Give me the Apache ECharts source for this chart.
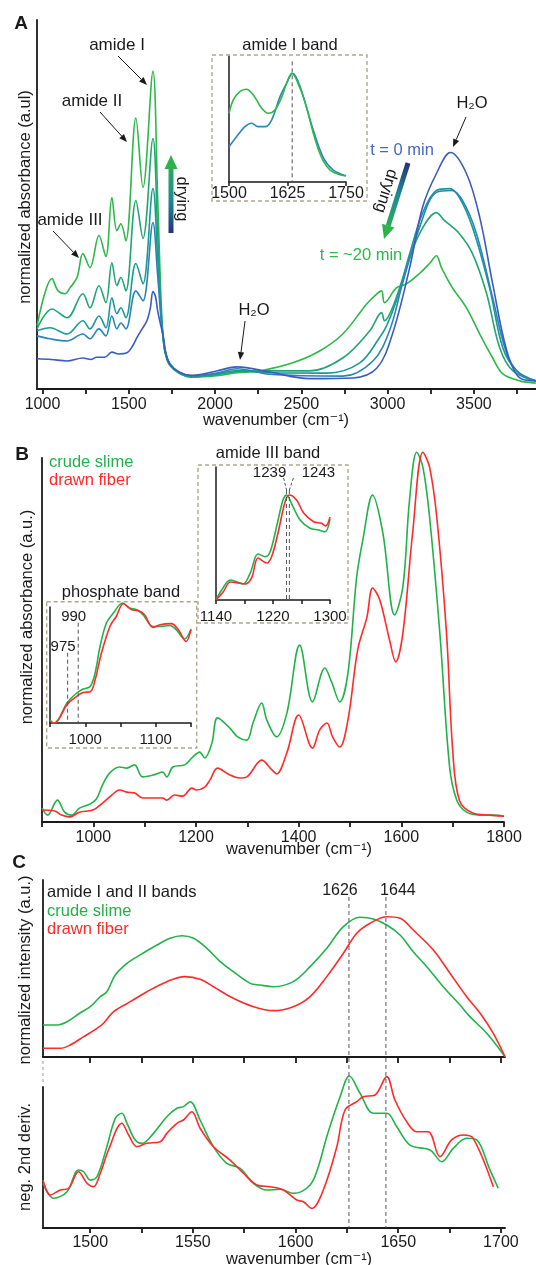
<!DOCTYPE html>
<html><head><meta charset="utf-8">
<script src="https://cdn.jsdelivr.net/npm/echarts@6/dist/echarts.min.js"></script>
<style>html,body{margin:0;padding:0;background:#fff}#c{width:536px;height:1265px}</style>
</head><body><div id="c"></div>
<script>
// ---------- tick labels ----------
const aTicks=[1000,1250,1500,1750,2000,2250,2500,2750,3000,3250,3500,3750];
const aLabels=[1000,1500,2000,2500,3000,3500];
const aiTicks=[1500,1625,1750];
const bTicks=[900,1000,1100,1200,1300,1400,1500,1600,1700,1800];
const bLabels=[1000,1200,1400,1600,1800];
const bpTicks=[950,1000,1050,1100,1150];
const bpLabels=[1000,1100];
const b3Ticks=[1140,1180,1220,1260,1300];
const b3Labels=[1140,1220,1300];
const cTicks=[1500,1525,1550,1575,1600,1625,1650,1675,1700];
const cLabels=[1500,1550,1600,1650,1700];

// ---------- panel A: drying series (t=0 ... t=~20 min) ----------
const aT0=[[968,8.2],[1050,8.0],[1142,7.6],[1234,8.4],[1280,8.0],[1315,8.6],[1360,8.6],[1402,10.0],[1440,9.5],[1489,9.8],[1520,11.5],[1547,13.9],[1580,16.5],[1605,18.5],[1625,22],[1640,26.4],[1655,25],[1668,21],[1697,14.9],[1738,6.8],[1860,3.7],[2010,4.9],[2126,6.0],[2317,4.6],[2548,2.8],[2798,3.0],[2938,5.7],[3028,14.9],[3128,32.9],[3202,49.2],[3283,58.4],[3364,64.1],[3457,58.4],[3534,46.5],[3609,28.5],[3691,10.3],[3766,3.0],[3859,2.2]];
const aT1=[[968,14.4],[1043,13.6],[1142,13.0],[1234,14.9],[1275,13.6],[1327,16.3],[1367,14.4],[1402,19.8],[1431,16.3],[1454,17.9],[1483,16.3],[1541,26.6],[1582,23.9],[1640,45.1],[1668,30.3],[1697,14.9],[1738,6.8],[1860,3.6],[2010,4.3],[2126,5.5],[2317,4.0],[2740,3.5],[2915,7.6],[3011,15.8],[3086,28.5],[3185,43.8],[3283,53.3],[3370,53.8],[3434,51.1],[3515,42.1],[3609,24.7],[3691,9.5],[3766,4.1],[3859,2.2]];
const aT2=[[968,15.8],[1043,16.6],[1142,14.9],[1234,18.5],[1275,16.3],[1327,19.8],[1367,16.6],[1402,24.7],[1431,20.4],[1454,22.0],[1483,19.3],[1541,34.0],[1582,28.5],[1640,54.3],[1668,35],[1697,14.9],[1738,6.8],[1860,3.5],[2010,4.1],[2126,5.0],[2317,4.4],[2648,4.3],[2839,7.1],[2953,13.9],[2994,17.1],[3051,23.9],[3128,36.7],[3202,47.6],[3283,53.8],[3358,54.3],[3416,51.9],[3492,43.8],[3591,27.4],[3668,11.1],[3749,4.9],[3859,2.2]];
const aT3=[[968,16.3],[1055,21.7],[1142,19.3],[1234,25.8],[1275,22.0],[1327,28.0],[1367,23.4],[1402,34.2],[1431,28.0],[1454,30.2],[1483,26.6],[1541,51.1],[1582,40.8],[1640,67.9],[1668,41.8],[1697,14.9],[1738,6.5],[1860,3.3],[2010,3.9],[2126,4.7],[2259,4.9],[2548,4.9],[2740,8.4],[2897,15.8],[2965,20.7],[2982,18.5],[3028,22.0],[3109,32.9],[3185,42.1],[3283,47.8],[3329,45.7],[3416,42.1],[3492,36.7],[3574,25.8],[3650,11.1],[3726,4.9],[3859,2.2]];
const aT4=[[968,17.1],[1055,29.9],[1090,26.6],[1130,25.8],[1159,27.4],[1200,30.2],[1234,36.7],[1275,32.9],[1327,41.6],[1367,35.9],[1402,51.9],[1431,42.9],[1454,44.8],[1483,40.2],[1541,73.4],[1582,54.6],[1640,86.1],[1668,50.8],[1697,14.9],[1726,7.3],[1767,5.2],[1860,3.2],[2010,3.6],[2126,4.4],[2259,4.9],[2450,7.1],[2606,10.3],[2740,14.9],[2880,23.1],[2938,25.8],[2965,26.6],[2982,23.4],[3051,27.4],[3109,28.5],[3185,31.3],[3243,34.0],[3283,36.1],[3312,32.9],[3376,27.4],[3457,22.0],[3534,14.9],[3609,8.4],[3668,4.1],[3766,2.2],[3859,1.6]];

// ---------- panel A inset: amide I band ----------
const aiBlue=[[1500,0.325],[1516,0.417],[1534,0.509],[1548,0.54],[1562,0.509],[1577,0.509],[1591,0.570],[1609,0.785],[1623,0.908],[1636,1.0],[1652,0.877],[1680,0.478],[1702,0.22],[1723,0.11],[1750,0.058]];
const aiGreen=[[1500,0.632],[1509,0.754],[1523,0.831],[1537,0.853],[1552,0.8],[1570,0.678],[1584,0.632],[1598,0.662],[1613,0.785],[1623,0.908],[1634,1.0],[1652,0.86],[1666,0.68],[1680,0.45],[1691,0.30],[1702,0.19],[1716,0.11],[1735,0.07],[1750,0.055]];

// ---------- panel B ----------
const bGreen=[[900,3.8],[911,1.9],[930,6.0],[944,2.7],[958,1.9],[973,3.8],[993,4.9],[1006,6.3],[1018,10.2],[1032,13.5],[1051,15.1],[1065,14.8],[1080,15.7],[1096,12.4],[1116,12.9],[1135,13.7],[1143,12.4],[1155,15.1],[1178,15.7],[1194,17.9],[1207,19.2],[1217,17.6],[1231,21.7],[1242,28.6],[1266,25.8],[1281,23.4],[1299,22.5],[1311,27.2],[1328,32.7],[1338,28.0],[1357,23.4],[1377,29.9],[1402,48.6],[1427,33.0],[1451,42.3],[1464,38.5],[1480,33.0],[1496,40.9],[1513,67.3],[1525,77.5],[1544,89.8],[1564,79.4],[1587,56.9],[1603,64.6],[1616,88.5],[1630,101.6],[1642,97.5],[1655,83.8],[1675,51.9],[1694,15.2],[1708,6.0],[1727,2.7],[1753,1.9],[1778,1.9],[1800,1.6]];
const bRed=[[900,3.3],[925,3.0],[938,1.9],[954,1.4],[973,2.7],[999,3.3],[1018,5.2],[1036,7.4],[1051,8.8],[1065,8.2],[1080,8.0],[1096,6.6],[1116,6.6],[1135,6.6],[1143,6.0],[1158,7.4],[1174,7.1],[1192,9.3],[1201,8.8],[1217,9.6],[1227,11.5],[1242,14.8],[1266,12.9],[1285,12.1],[1299,12.4],[1328,17.0],[1348,14.3],[1357,13.2],[1377,19.0],[1400,29.4],[1427,20.3],[1441,25.3],[1455,27.2],[1466,23.4],[1480,20.6],[1496,28.0],[1515,47.3],[1533,56.3],[1544,64.3],[1558,61.0],[1577,50.0],[1589,44.0],[1603,51.9],[1622,79.4],[1642,101.6],[1655,97.5],[1669,83.8],[1688,51.9],[1700,19.8],[1713,6.0],[1739,2.5],[1772,1.9],[1800,1.6]];
const bpGreen=[[950,0.028],[955,0],[962,0.028],[974,0.167],[988,0.25],[997,0.283],[1007,0.305],[1014,0.417],[1021,0.638],[1030,0.833],[1040,0.917],[1053,1.0],[1063,0.958],[1073,0.944],[1082,0.903],[1096,0.805],[1106,0.805],[1120,0.813],[1129,0.778],[1141,0.7],[1150,0.783]];
const bpRed=[[950,0.013],[955,0],[962,0.028],[974,0.153],[988,0.222],[997,0.255],[1007,0.26],[1014,0.36],[1023,0.583],[1035,0.805],[1044,0.888],[1054,0.994],[1066,0.944],[1075,0.938],[1084,0.903],[1096,0.797],[1106,0.819],[1122,0.828],[1132,0.778],[1143,0.68],[1150,0.778]];
const b3Green=[[1140,0],[1148,0.095],[1160,0.19],[1169,0.174],[1178,0.152],[1188,0.257],[1199,0.438],[1209,0.412],[1216,0.46],[1225,0.698],[1234,0.952],[1239,1.0],[1248,0.889],[1258,0.762],[1272,0.683],[1284,0.667],[1293,0.65],[1300,0.771]];
const b3Red=[[1140,0],[1150,0.076],[1160,0.171],[1169,0.165],[1181,0.152],[1190,0.21],[1199,0.4],[1211,0.352],[1218,0.412],[1227,0.638],[1237,0.936],[1243,1.0],[1253,0.952],[1263,0.829],[1277,0.746],[1288,0.73],[1294,0.705],[1300,0.79]];

// ---------- panel C ----------
const c1Green=[[1477,0.229],[1484,0.229],[1488.7,0.252],[1495.2,0.316],[1500,0.359],[1504.9,0.431],[1508.1,0.466],[1512.2,0.586],[1517.9,0.669],[1524.3,0.729],[1532.5,0.8],[1538.9,0.848],[1544.6,0.866],[1550.3,0.848],[1556.8,0.776],[1563.3,0.681],[1569.7,0.609],[1577.9,0.526],[1582.7,0.514],[1589.2,0.502],[1598.9,0.538],[1607.1,0.645],[1615.2,0.776],[1623.3,0.931],[1631.4,0.998],[1637.9,0.986],[1644.4,0.943],[1650.9,0.871],[1657.3,0.752],[1663.9,0.645],[1671.9,0.502],[1680.1,0.371],[1684.9,0.288],[1693.1,0.169],[1702,0.002]];
const c1Red=[[1477,0.062],[1485.4,0.062],[1490.3,0.086],[1496.8,0.145],[1503.3,0.205],[1506.5,0.241],[1511.4,0.324],[1519.5,0.395],[1527.6,0.466],[1537.3,0.538],[1546.2,0.574],[1553.5,0.555],[1560,0.502],[1569.7,0.419],[1579.5,0.359],[1589.2,0.331],[1598.9,0.359],[1607.1,0.431],[1615.2,0.574],[1623.3,0.741],[1629.8,0.884],[1636.3,0.955],[1644.4,1.002],[1650.9,0.991],[1657.3,0.907],[1667.1,0.764],[1675.2,0.598],[1683.3,0.431],[1689.9,0.312],[1696.3,0.169],[1702,0.002]];
const c2Green=[[1477,0.298],[1482.2,0.198],[1488.7,0.242],[1494.3,0.387],[1496.8,0.375],[1500,0.32],[1503.3,0.342],[1508.1,0.542],[1512.2,0.731],[1515.4,0.765],[1517.9,0.698],[1521.9,0.587],[1525.2,0.565],[1530.8,0.631],[1537.3,0.742],[1542.2,0.798],[1545.4,0.809],[1548.7,0.842],[1553.5,0.72],[1560,0.542],[1566.5,0.431],[1573,0.398],[1579.5,0.298],[1586,0.253],[1592.5,0.258],[1599,0.231],[1607.1,0.287],[1611.1,0.409],[1615.2,0.609],[1621.7,0.875],[1626.2,1.013],[1631.4,0.898],[1637.9,0.765],[1644.4,0.765],[1649.3,0.675],[1655.7,0.553],[1665.5,0.52],[1671.2,0.442],[1676.8,0.531],[1683.3,0.598],[1688.2,0.587],[1694.7,0.387],[1698.7,0.265]];
const c2Red=[[1477,0.32],[1480.6,0.22],[1485.4,0.253],[1489.5,0.265],[1494.3,0.375],[1498.4,0.298],[1501.6,0.275],[1504.9,0.365],[1508.9,0.52],[1515.4,0.698],[1518.7,0.62],[1522.7,0.542],[1527.6,0.565],[1534.1,0.575],[1537.3,0.631],[1542.2,0.698],[1545.4,0.72],[1549.5,0.775],[1553.5,0.665],[1560,0.542],[1568.1,0.453],[1574.6,0.365],[1581.1,0.287],[1587.6,0.275],[1594.1,0.253],[1600.6,0.187],[1603.8,0.175],[1607.9,0.131],[1613.5,0.253],[1620.1,0.542],[1624.1,0.787],[1629.8,0.842],[1633,0.875],[1638.7,0.887],[1644.4,1.009],[1648.4,0.853],[1654.1,0.709],[1659,0.642],[1664.6,0.642],[1670.3,0.475],[1676,0.587],[1681.7,0.62],[1686.5,0.598],[1696.3,0.275]];

// ---------- chart ----------
const FONT="'Liberation Sans', Arial, 'DejaVu Sans', sans-serif";
const BLACK='#1a1a1a';
const GREEN='#22b24a', RED='#ff2a2a';
const chart=echarts.init(document.getElementById('c'),null,{renderer:'canvas'});

function xAx(gi,min,max,ticks,labels,o){
  o=o||{};
  return {type:'value',gridIndex:gi,min:min,max:max,
    axisLine:{show:true,onZero:false,lineStyle:{color:BLACK,width:o.lw||1.5}},
    axisTick:{show:true,inside:false,length:o.tl||5,customValues:ticks,lineStyle:{color:BLACK,width:o.lw||1.5}},
    axisLabel:labels?{show:true,customValues:labels,formatter:function(v){return String(v);},fontSize:o.fs||16,fontFamily:FONT,color:BLACK,margin:o.m!=null?o.m:8}:{show:false},
    splitLine:{show:false}};
}
function yAx(gi,min,max,lw){
  return {type:'value',gridIndex:gi,min:min,max:max,
    axisLine:{show:true,onZero:false,lineStyle:{color:BLACK,width:lw||1.5}},
    axisTick:{show:false},axisLabel:{show:false},splitLine:{show:false}};
}
function ser(gi,data,color,w){
  return {type:'line',xAxisIndex:gi,yAxisIndex:gi,data:data,showSymbol:false,symbol:'none',
    smooth:0.35,clip:false,silent:true,lineStyle:{width:w||1.6,color:color},itemStyle:{color:color}};
}

const option={
  animation:false,
  backgroundColor:'#fff',
  grid:[
    {left:37,top:20,width:499,height:369,outerBoundsMode:'none'},
    {left:229,top:56,width:117,height:126,outerBoundsMode:'none'},
    {left:42,top:458,width:462,height:364,outerBoundsMode:'none'},
    {left:50,top:607,width:141,height:116,outerBoundsMode:'none'},
    {left:216,top:467,width:114,height:133,outerBoundsMode:'none'},
    {left:43,top:880,width:462,height:177,outerBoundsMode:'none'},
    {left:43,top:1087,width:462,height:141,outerBoundsMode:'none'}
  ],
  xAxis:[
    xAx(0,968,3860,aTicks,aLabels,{lw:1.8,m:8}),
    xAx(1,1500,1750,aiTicks,aiTicks,{m:4,tl:4}),
    xAx(2,900,1800,bTicks,bLabels,{lw:1.8,m:8}),
    xAx(3,950,1150,bpTicks,bpLabels,{fs:15,m:9,tl:4}),
    xAx(4,1140,1300,b3Ticks,b3Labels,{fs:15,m:9,tl:4}),
    xAx(5,1477,1702,cTicks,null,{lw:1.8,tl:6}),
    xAx(6,1477,1702,cTicks,cLabels,{lw:1.8,m:7})
  ],
  yAxis:[
    yAx(0,0,100,1.8), yAx(1,0,1.159), yAx(2,0,100,1.8), yAx(3,0,0.967),
    yAx(4,0,1.267), yAx(5,0,1.264,1.8), yAx(6,0,0.94,1.8)
  ],
  series:[
    ser(0,aT4,'#2cb84a'), ser(0,aT3,'#20a672'), ser(0,aT2,'#1b9999'), ser(0,aT1,'#2b84b8'), ser(0,aT0,'#3a5cc0'),
    ser(1,aiBlue,'#2a86b8'), ser(1,aiGreen,'#2cb84a'),
    ser(2,bGreen,GREEN), ser(2,bRed,RED),
    ser(3,bpGreen,GREEN), ser(3,bpRed,RED),
    ser(4,b3Green,GREEN), ser(4,b3Red,RED),
    ser(5,c1Green,GREEN), ser(5,c1Red,RED),
    ser(6,c2Green,GREEN), ser(6,c2Red,RED)
  ]
};
chart.setOption(option);

// ---------- annotations ----------
const g=[];
function T(text,x,y,size,color,o){
  o=o||{};
  g.push({type:'text',x:x,y:y,rotation:o.rot||0,silent:true,z:10,
    style:{text:text,fontSize:size,fontFamily:FONT,fontWeight:o.bold?'bold':'normal',fill:color||BLACK,
      align:o.align||'center',verticalAlign:'middle',textAlign:o.align||'center',textVerticalAlign:'middle'}});
}
function L(x1,y1,x2,y2,color,w,dash){
  g.push({type:'line',silent:true,z:5,shape:{x1:x1,y1:y1,x2:x2,y2:y2},style:{stroke:color||BLACK,lineWidth:w||1,lineDash:dash||null}});
}
function arrow(x1,y1,x2,y2){
  const a=Math.atan2(y2-y1,x2-x1),c=Math.cos(a),s=Math.sin(a),hl=8,hw=3.2;
  const bx=x2-hl*c,by=y2-hl*s;
  L(x1,y1,bx,by,BLACK,1);
  g.push({type:'polygon',silent:true,z:5,shape:{points:[[x2,y2],[bx-s*hw,by+c*hw],[bx+s*hw,by-c*hw]]},style:{fill:BLACK}});
}
function thickArrow(x1,y1,x2,y2){
  const a=Math.atan2(y2-y1,x2-x1),c=Math.cos(a),s=Math.sin(a),hl=14,hw=6.5,w=5;
  const bx=x2-hl*c,by=y2-hl*s,nx=-s*w/2,ny=c*w/2;
  const grad=new echarts.graphic.LinearGradient(x1,y1,bx,by,[{offset:0,color:'#25307f'},{offset:0.5,color:'#1d8a93'},{offset:1,color:'#27ab5a'}],true);
  g.push({type:'polygon',silent:true,z:5,shape:{points:[[x1+nx,y1+ny],[bx+nx,by+ny],[bx-nx,by-ny],[x1-nx,y1-ny]]},style:{fill:grad}});
  g.push({type:'polygon',silent:true,z:5,shape:{points:[[x2,y2],[bx-s*hw,by+c*hw],[bx+s*hw,by-c*hw]]},style:{fill:'#2db34a'}});
}
function box(x,y,w,h){
  g.push({type:'rect',silent:true,z:1,shape:{x:x,y:y,width:w,height:h},style:{fill:null,stroke:'#aea78f',lineWidth:1.4,lineDash:[4,3]}});
}
function px(gi,x,y){return chart.convertToPixel({gridIndex:gi},[x,y]);}
const DASH=[4,3], DC='#555';

// panel letters
T('A',21,24,19,BLACK,{bold:true});
T('B',22,455,19,BLACK,{bold:true});
T('C',19,863,19,BLACK,{bold:true});

// axis titles
T('normalized absorbance (a.ul)',25,197,16.5,BLACK,{rot:Math.PI/2});
T('wavenumber (cm⁻¹)',276,420,16.5);
T('normalized absorbance (a.u.)',27,617,16.5,BLACK,{rot:Math.PI/2});
T('wavenumber (cm⁻¹)',299,849,16.5);
T('normalized intensity (a.u.)',25,970,16.5,BLACK,{rot:Math.PI/2});
T('neg. 2nd deriv.',25,1157,16.5,BLACK,{rot:Math.PI/2});
T('wavenumber (cm⁻¹)',299,1259,16.5);

// panel A annotations
T('amide I',117,45,17);  arrow(118,56,147,85);
T('amide II',92,101,17); arrow(100,112,127,142);
T('amide III',70,220,17); arrow(53,231,79,258);
T('drying',182,199,16.5,BLACK,{rot:-Math.PI/2});
thickArrow(171,233,171,155);
T('H₂O',254,310,16.5); arrow(245,321,240,360);
T('H₂O',472,103,16.5); arrow(466,117,453,147);
T('t = 0 min',402,150,16.5,'#4468c4');
T('drying',386,191,16.5,BLACK,{rot:-Math.atan2(74,-23)});
thickArrow(408,163,384,239);
T('t = ~20 min',361,255,16.5,'#2cb84a');

// inset A
box(212,55,155,146);
T('amide I band',290,45,16.5);
(function(){const p1=px(1,1635,1.11),p2=px(1,1635,0);L(p1[0],p1[1],p2[0],p2[1],DC,1,DASH);})();

// panel B legend
T('crude slime',49,462,16.5,GREEN,{align:'left'});
T('drawn fiber',49,480,16.5,RED,{align:'left'});

// inset B amide III
box(198,465,150,158);
T('amide III band',268,453,16.5);
(function(){
  const a1=px(4,1239,1.048),a2=px(4,1239,0),b1=px(4,1243,1.048),b2=px(4,1243,0);
  L(a1[0],a1[1],a2[0],a2[1],DC,1,DASH); L(b1[0],b1[1],b2[0],b2[1],DC,1,DASH);
  L(a1[0]-3,a1[1]-12,a1[0],a1[1],DC,1,[3,2]); L(b1[0]+4,b1[1]-12,b1[0],b1[1],DC,1,[3,2]);
  T('1239',a1[0]-17,473,15); T('1243',b1[0]+29,473,15);
})();

// inset B phosphate
box(46.7,601.7,150,146.3);
T('phosphate band',121,592,16.5);
(function(){
  const a1=px(3,975,0.586),a2=px(3,975,0),b1=px(3,990,0.836),b2=px(3,990,0);
  L(a1[0],a1[1],a2[0],a2[1],DC,1,DASH); L(b1[0],b1[1],b2[0],b2[1],DC,1,DASH);
  T('975',a1[0]-4.5,647,15); T('990',b1[0]-4.5,617,15);
})();

// panel C
T('amide I and II bands',47,892,16.5,BLACK,{align:'left'});
T('crude slime',47,911,16.5,GREEN,{align:'left'});
T('drawn fiber',47,929,16.5,RED,{align:'left'});
L(43,1061,43,1085,'#999',1,[3,3]);
(function(){
  const a1=px(5,1626,1.143),a2=px(6,1626,0),b1=px(5,1644,1.143),b2=px(6,1644,0);
  L(a1[0],a1[1],a2[0],a2[1],DC,1,DASH); L(b1[0],b1[1],b2[0],b2[1],DC,1,DASH);
  T('1626',a1[0]-9,891,16); T('1644',b1[0]+12,891,16);
})();

chart.setOption({graphic:{elements:g}});
</script>
</body></html>
